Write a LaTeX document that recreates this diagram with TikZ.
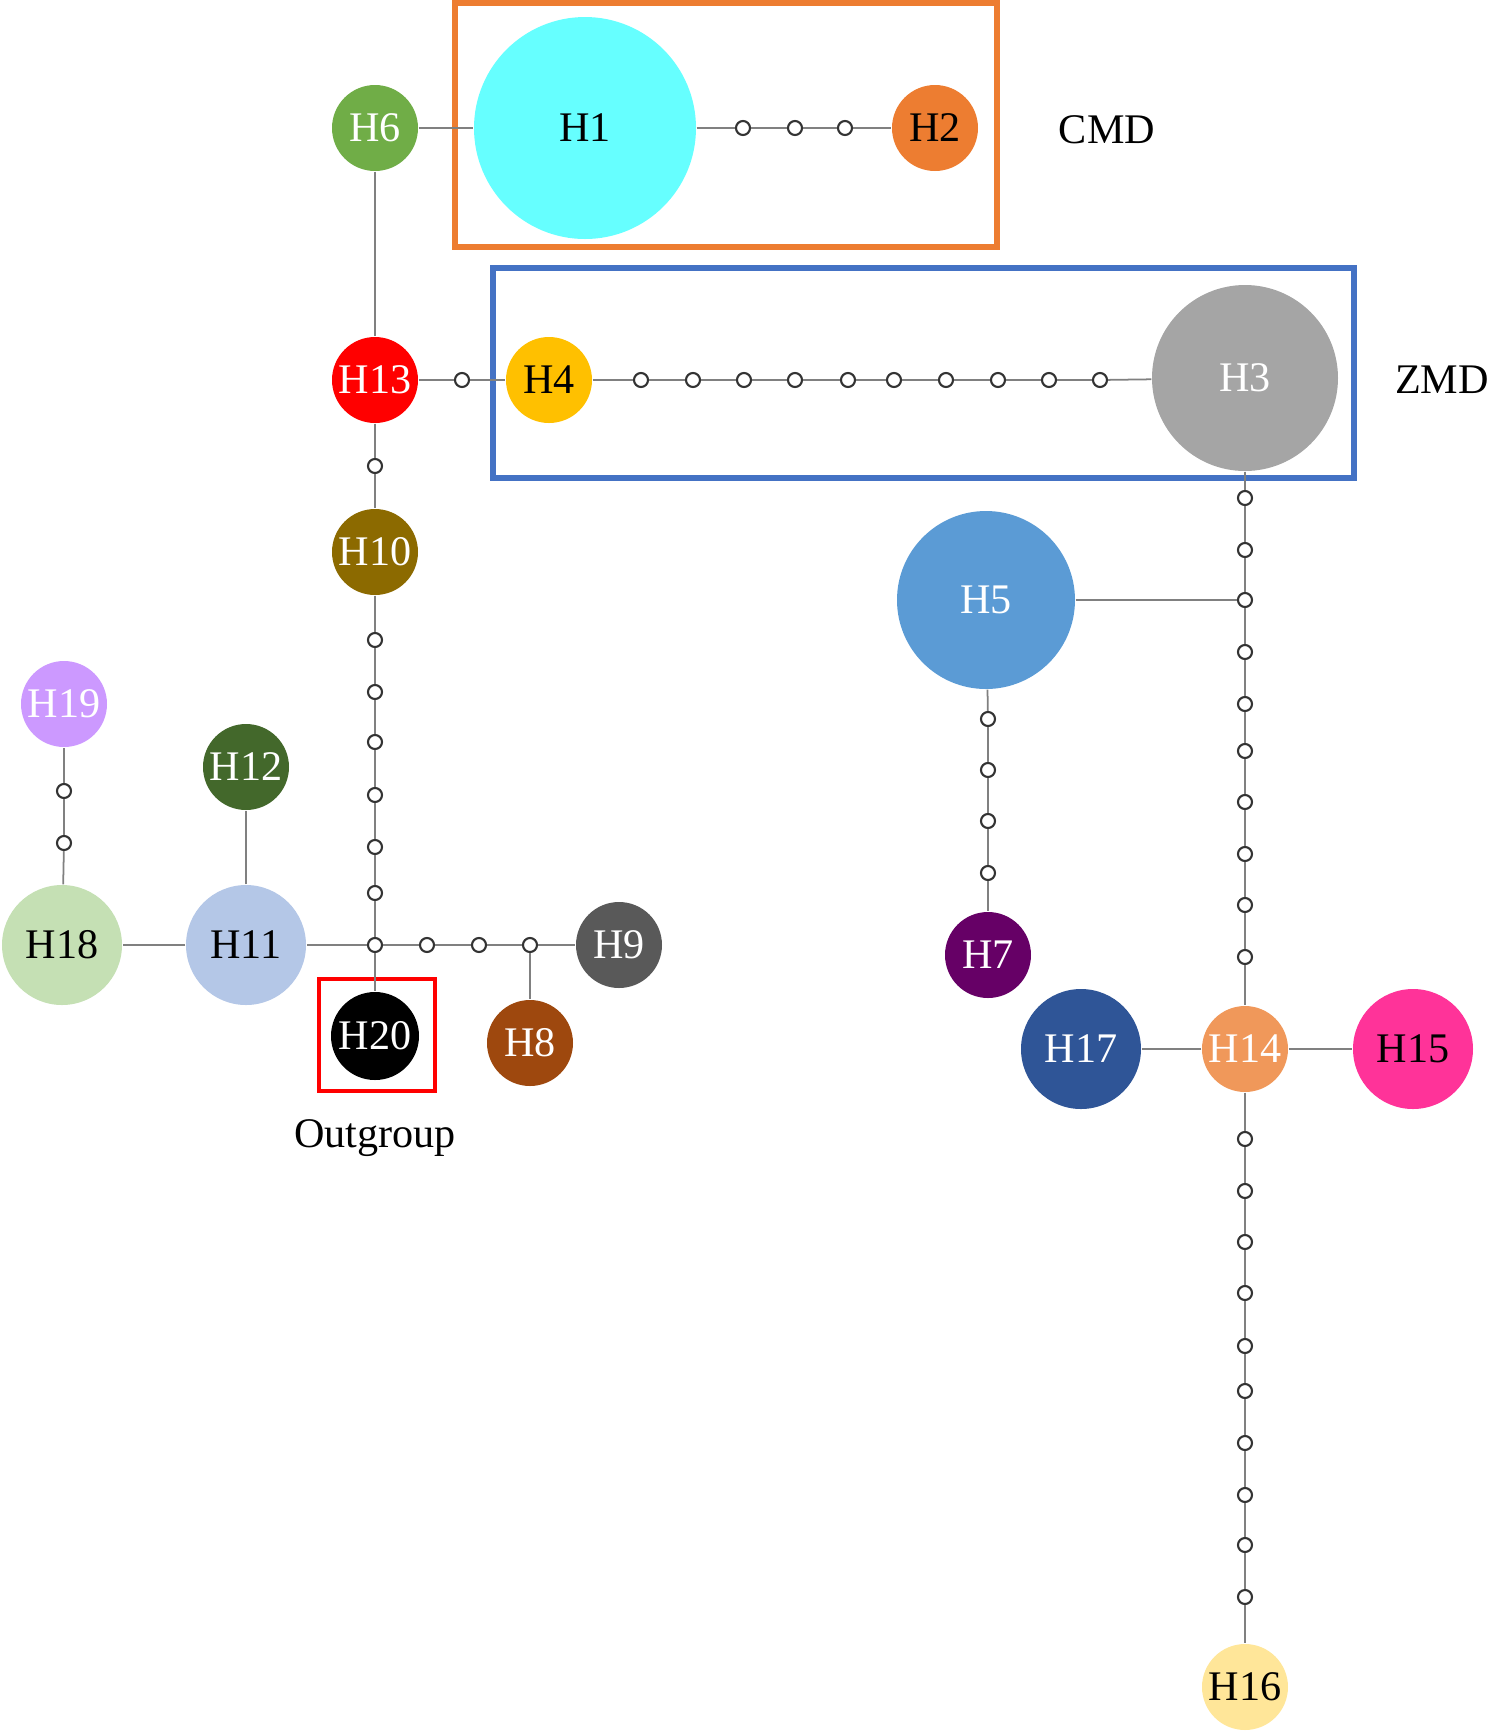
\documentclass[tikz,border=0pt]{standalone}
\usepackage{fontspec}
\setmainfont{Liberation Serif}
\usetikzlibrary{positioning}
\definecolor{cH1}{HTML}{66FFFF}
\definecolor{cH2}{HTML}{ED7D31}
\definecolor{cH3}{HTML}{A5A5A5}
\definecolor{cH4}{HTML}{FFC000}
\definecolor{cH5}{HTML}{5B9BD5}
\definecolor{cH6}{HTML}{70AD47}
\definecolor{cH7}{HTML}{660066}
\definecolor{cH8}{HTML}{9E480E}
\definecolor{cH9}{HTML}{595959}
\definecolor{cH10}{HTML}{8C6A00}
\definecolor{cH11}{HTML}{B4C7E7}
\definecolor{cH12}{HTML}{43682B}
\definecolor{cH13}{HTML}{FF0000}
\definecolor{cH14}{HTML}{F0985A}
\definecolor{cH15}{HTML}{FF3399}
\definecolor{cH16}{HTML}{FFE699}
\definecolor{cH17}{HTML}{2F5597}
\definecolor{cH18}{HTML}{C5E0B4}
\definecolor{cH19}{HTML}{CC99FF}
\definecolor{linegray}{HTML}{808080}
\definecolor{boxorange}{HTML}{ED7D31}
\definecolor{boxblue}{HTML}{4472C4}

\begin{document}
\begin{tikzpicture}[auto,
  hap/.style={circle,inner sep=0pt,text=white,font=\fontsize{12}{14}\selectfont},
  small/.style={hap,minimum size=0.86cm},
  mid/.style={hap,minimum size=1.2cm},
  mut/.style={circle,draw=black!80,fill=white,line width=0.6pt,inner sep=0pt,minimum size=0.14cm},
  group/.style={font=\fontsize{12}{14}\selectfont}]
  \useasboundingbox (0,0) rectangle (14.89,-17.31);

  % CMD group
  \node[small, fill=cH6] (h6) at (3.75,-1.28) {H6};
  \node[hap, fill=cH1, text=black, minimum size=2.22cm] (h1) at (5.85,-1.28) {H1};
  \node[mut] (m1) at (7.43,-1.28) {};
  \node[mut] (m2) at (7.95,-1.28) {};
  \node[mut] (m3) at (8.45,-1.28) {};
  \node[small, fill=cH2, text=black] (h2) at (9.35,-1.28) {H2};
  \draw[boxorange, line width=1.6pt] (4.55,-0.03) rectangle (9.97,-2.47);
  \node[group] (cmd) at (11.07,-1.30) {CMD};

  % ZMD group
  \node[small, fill=cH13] (h13) at (3.75,-3.80) {H13};
  \node[mut] (m4) at (4.62,-3.80) {};
  \node[small, fill=cH4, text=black] (h4) at (5.49,-3.80) {H4};
  \node[mut] (m5) at (6.41,-3.80) {};
  \node[mut] (m6) at (6.93,-3.80) {};
  \node[mut] (m7) at (7.44,-3.80) {};
  \node[mut] (m8) at (7.95,-3.80) {};
  \node[mut] (m9) at (8.48,-3.80) {};
  \node[mut] (m10) at (8.94,-3.80) {};
  \node[mut] (m11) at (9.46,-3.80) {};
  \node[mut] (m12) at (9.98,-3.80) {};
  \node[mut] (m13) at (10.49,-3.80) {};
  \node[mut] (m14) at (11.00,-3.80) {};
  \node[hap, fill=cH3, minimum size=1.86cm] (h3) at (12.45,-3.78) {H3};
  \draw[boxblue, line width=1.6pt] (4.93,-2.68) rectangle (13.54,-4.78);
  \node[group] (zmd) at (14.42,-3.80) {ZMD};

  % left branch
  \node[mut] (m15) at (3.75,-4.66) {};
  \node[small, fill=cH10] (h10) at (3.75,-5.52) {H10};
  \node[mut] (m16) at (3.75,-6.40) {};
  \node[mut] (m17) at (3.75,-6.92) {};
  \node[mut] (m18) at (3.75,-7.42) {};
  \node[mut] (m19) at (3.75,-7.95) {};
  \node[mut] (m20) at (3.75,-8.47) {};
  \node[mut] (m21) at (3.75,-8.93) {};
  \node[mut] (j1) at (3.75,-9.45) {};
  \node[mut] (m22) at (4.27,-9.45) {};
  \node[mut] (m23) at (4.79,-9.45) {};
  \node[mut] (m24) at (5.30,-9.45) {};
  \node[small, fill=cH9] (h9) at (6.19,-9.45) {H9};
  \node[small, fill=cH8] (h8) at (5.30,-10.43) {H8};
  \node[small, fill=black, minimum size=0.88cm] (h20) at (3.75,-10.36) {H20};
  \draw[red, line width=1.4pt] (3.19,-9.79) rectangle (4.35,-10.91);
  \node[group] (out) at (3.75,-11.38) {Outgroup};
  \node[mid, fill=cH11, text=black] (h11) at (2.46,-9.45) {H11};
  \node[mid, fill=cH18, text=black] (h18) at (0.62,-9.45) {H18};
  \node[small, fill=cH12] (h12) at (2.46,-7.67) {H12};
  \node[small, fill=cH19] (h19) at (0.64,-7.04) {H19};
  \node[mut] (m25) at (0.64,-7.91) {};
  \node[mut] (m26) at (0.64,-8.43) {};

  % right branch
  \node[mut] (m27) at (12.45,-4.98) {};
  \node[mut] (m28) at (12.45,-5.50) {};
  \node[mut] (m29) at (12.45,-6.00) {};
  \node[mut] (m30) at (12.45,-6.52) {};
  \node[mut] (m31) at (12.45,-7.04) {};
  \node[mut] (m32) at (12.45,-7.51) {};
  \node[mut] (m33) at (12.45,-8.02) {};
  \node[mut] (m34) at (12.45,-8.54) {};
  \node[mut] (m35) at (12.45,-9.05) {};
  \node[mut] (m36) at (12.45,-9.57) {};
  \node[hap, fill=cH5, minimum size=1.78cm] (h5) at (9.86,-6.00) {H5};
  \node[mut] (m37) at (9.88,-7.19) {};
  \node[mut] (m38) at (9.88,-7.70) {};
  \node[mut] (m39) at (9.88,-8.21) {};
  \node[mut] (m40) at (9.88,-8.73) {};
  \node[small, fill=cH7] (h7) at (9.88,-9.55) {H7};
  \node[small, fill=cH14] (h14) at (12.45,-10.49) {H14};
  \node[mid, fill=cH17] (h17) at (10.81,-10.49) {H17};
  \node[mid, fill=cH15, text=black] (h15) at (14.13,-10.49) {H15};
  \node[mut] (m41) at (12.45,-11.39) {};
  \node[mut] (m42) at (12.45,-11.91) {};
  \node[mut] (m43) at (12.45,-12.42) {};
  \node[mut] (m44) at (12.45,-12.93) {};
  \node[mut] (m45) at (12.45,-13.46) {};
  \node[mut] (m46) at (12.45,-13.91) {};
  \node[mut] (m47) at (12.45,-14.43) {};
  \node[mut] (m48) at (12.45,-14.95) {};
  \node[mut] (m49) at (12.45,-15.45) {};
  \node[mut] (m50) at (12.45,-15.97) {};
  \node[small, fill=cH16, text=black] (h16) at (12.45,-16.87) {H16};

  \path[every edge/.style={draw,linegray,line width=0.5pt}]
    (h6) edge (h1)
    (h1) edge (m1) (m1) edge (m2) (m2) edge (m3) (m3) edge (h2)
    (h6) edge (h13)
    (h13) edge (m4) (m4) edge (h4) (h4) edge (m5)
    (m5) edge (m6) (m6) edge (m7) (m7) edge (m8) (m8) edge (m9)
    (m9) edge (m10) (m10) edge (m11) (m11) edge (m12) (m12) edge (m13)
    (m13) edge (m14) (m14) edge (h3)
    (h13) edge (m15) (m15) edge (h10) (h10) edge (m16)
    (m16) edge (m17) (m17) edge (m18) (m18) edge (m19) (m19) edge (m20)
    (m20) edge (m21) (m21) edge (j1)
    (j1) edge (h11) (h11) edge (h18) (h11) edge (h12)
    (h18) edge (m26) (m26) edge (m25) (m25) edge (h19)
    (j1) edge (h20)
    (j1) edge (m22) (m22) edge (m23) (m23) edge (m24) (m24) edge (h9)
    (m24) edge (h8)
    (h3) edge (m27) (m27) edge (m28) (m28) edge (m29) (m29) edge (m30)
    (m30) edge (m31) (m31) edge (m32) (m32) edge (m33) (m33) edge (m34)
    (m34) edge (m35) (m35) edge (m36) (m36) edge (h14)
    (h5) edge (m29)
    (h5) edge (m37) (m37) edge (m38) (m38) edge (m39) (m39) edge (m40)
    (m40) edge (h7)
    (h14) edge (h17) (h14) edge (h15)
    (h14) edge (m41) (m41) edge (m42) (m42) edge (m43) (m43) edge (m44)
    (m44) edge (m45) (m45) edge (m46) (m46) edge (m47) (m47) edge (m48)
    (m48) edge (m49) (m49) edge (m50) (m50) edge (h16);
\end{tikzpicture}
\end{document}
